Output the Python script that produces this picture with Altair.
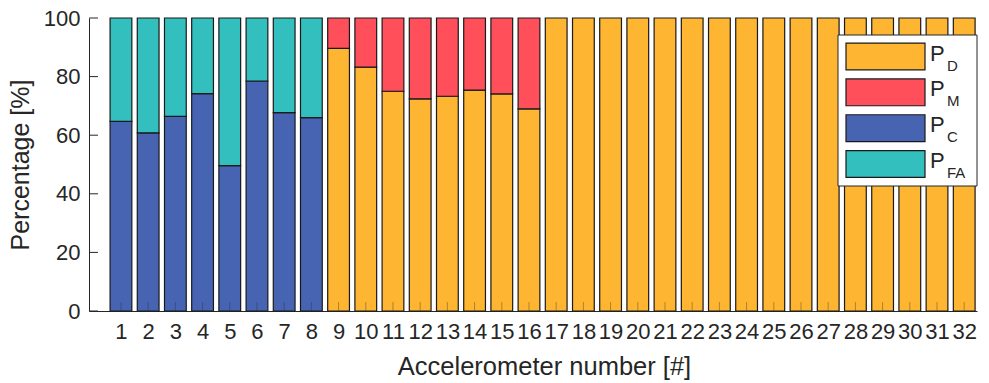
import altair as alt
import pandas as pd

FONT = "Liberation Sans"
INK = "#262626"

# Accelerometer ids
sensors_a = [1, 2, 3, 4, 5, 6, 7, 8]
sensors_b = [9, 10, 11, 12, 13, 14, 15, 16]
sensors_c = [17, 18, 19, 20, 21, 22, 23, 24, 25, 26, 27, 28, 29, 30, 31, 32]

# Percentages per accelerometer
p_c = [64.7, 60.8, 66.4, 74.2, 49.6, 78.5, 67.7, 66.0]
p_fa = [35.3, 39.2, 33.6, 25.8, 50.4, 21.5, 32.3, 34.0]
p_d_b = [89.6, 83.2, 75.0, 72.4, 73.3, 75.4, 74.1, 69.0]
p_m_b = [10.4, 16.8, 25.0, 27.6, 26.7, 24.6, 25.9, 31.0]
p_d_c = [100.0, 100.0, 100.0, 100.0, 100.0, 100.0, 100.0, 100.0,
         100.0, 100.0, 100.0, 100.0, 100.0, 100.0, 100.0, 100.0]

series_keys = ["D", "M", "C", "FA"]
series_colors = ["#FDB532", "#FF4F5B", "#4664B2", "#34BFBF"]

y_ticks = [0, 20, 40, 60, 80, 100]

# Stacked segments: (sensor, series, lower, upper)
rows = []
for s, c, fa in zip(sensors_a, p_c, p_fa):
    rows.append({"sensor": s, "series": "C", "lo": 0.0, "hi": c})
    rows.append({"sensor": s, "series": "FA", "lo": c, "hi": c + fa})
for s, d, m in zip(sensors_b, p_d_b, p_m_b):
    rows.append({"sensor": s, "series": "D", "lo": 0.0, "hi": d})
    rows.append({"sensor": s, "series": "M", "lo": d, "hi": d + m})
for s, d in zip(sensors_c, p_d_c):
    rows.append({"sensor": s, "series": "D", "lo": 0.0, "hi": d})
bars_df = pd.DataFrame(rows)

all_sensors = sensors_a + sensors_b + sensors_c

x_scale = alt.Scale(domain=[-0.175, 32.47], nice=False, zero=False)
y_scale = alt.Scale(domain=[0, 100], nice=False)
color_scale = alt.Scale(domain=series_keys, range=series_colors)

x_axis = alt.Axis(
    values=all_sensors,
    title="Accelerometer number [#]",
    ticks=False,
    grid=False,
    labelFontSize=22,
    labelPadding=10,
    labelColor=INK,
    labelFlush=False,
    labelOverlap=False,
    titleFontSize=25.5,
    titleFontWeight="normal",
    titleColor=INK,
    titlePadding=12,
    titleX=455,
    domainColor=INK,
    format="d",
)
y_axis = alt.Axis(
    values=y_ticks,
    title="Percentage [%]",
    ticks=False,
    grid=False,
    labelFontSize=22,
    labelPadding=9,
    labelColor=INK,
    titleFontSize=25,
    titleFontWeight="normal",
    titleColor=INK,
    titlePadding=10,
    domainColor=INK,
)

bars = (
    alt.Chart(bars_df)
    .transform_calculate(x0="datum.sensor - 0.4", x1="datum.sensor + 0.4")
    .mark_rect(stroke="#1a1a1a", strokeWidth=1.2)
    .encode(
        x=alt.X("x0:Q", scale=x_scale, axis=x_axis),
        x2="x1:Q",
        y=alt.Y("lo:Q", scale=y_scale, axis=y_axis),
        y2="hi:Q",
        color=alt.Color("series:N", scale=color_scale, legend=None),
    )
)

# Inward tick marks on both axes
x_tick_marks = (
    alt.Chart(pd.DataFrame({"sensor": all_sensors}))
    .mark_rule(color=INK, strokeWidth=1, opacity=0.35)
    .encode(
        x=alt.X("sensor:Q", scale=x_scale, axis=x_axis),
        y=alt.value(293),
        y2=alt.value(284),
    )
)
y_tick_marks = (
    alt.Chart(pd.DataFrame({"v": y_ticks}))
    .mark_rule(color=INK, strokeWidth=1)
    .encode(
        y=alt.Y("v:Q", scale=y_scale, axis=y_axis),
        x=alt.value(0),
        x2=alt.value(9),
    )
)

plot = alt.layer(bars, x_tick_marks, y_tick_marks)

# Legend with subscripted labels
legend_df = pd.DataFrame({"series": series_keys, "row": [0, 1, 2, 3]})
row_scale = alt.Scale(domain=[0, 3], range=[38.5, 146], nice=False, zero=False)

legend_box = (
    alt.Chart(pd.DataFrame({"k": [0]}))
    .mark_rect(fill="white", stroke=INK, strokeWidth=1)
    .encode(x=alt.value(749), x2=alt.value(888), y=alt.value(17), y2=alt.value(168))
)
legend_patch = (
    alt.Chart(legend_df)
    .transform_calculate(r0="datum.row - 0.375", r1="datum.row + 0.375")
    .mark_rect(stroke="#1a1a1a", strokeWidth=1.2)
    .encode(
        x=alt.value(757),
        x2=alt.value(836),
        y=alt.Y("r0:Q", scale=row_scale, axis=None),
        y2="r1:Q",
        color=alt.Color("series:N", scale=color_scale, legend=None),
    )
)
legend_p = (
    alt.Chart(legend_df)
    .mark_text(font=FONT, fontSize=22, color=INK, align="left", baseline="alphabetic", dy=4)
    .encode(
        x=alt.value(841),
        y=alt.Y("row:Q", scale=row_scale, axis=None),
        text=alt.value("P"),
    )
)
legend_sub = (
    alt.Chart(legend_df)
    .mark_text(font=FONT, fontSize=15, color=INK, align="left", baseline="alphabetic", dy=14)
    .encode(
        x=alt.value(858),
        y=alt.Y("row:Q", scale=row_scale, axis=None),
        text="series:N",
    )
)
legend = alt.layer(legend_box, legend_patch, legend_p, legend_sub)

chart = (
    alt.layer(plot, legend)
    .resolve_scale(y="independent")
    .resolve_axis(y="independent", x="independent")
    .properties(
        width=888,
        height=293,
        autosize=alt.AutoSizeParams(type="none"),
        padding={"left": 89, "top": 18, "right": 12, "bottom": 72},
    )
    .configure(font=FONT)
    .configure_view(stroke=None)
)

chart.save("out.html", embed_options={"renderer": "svg", "actions": False})
